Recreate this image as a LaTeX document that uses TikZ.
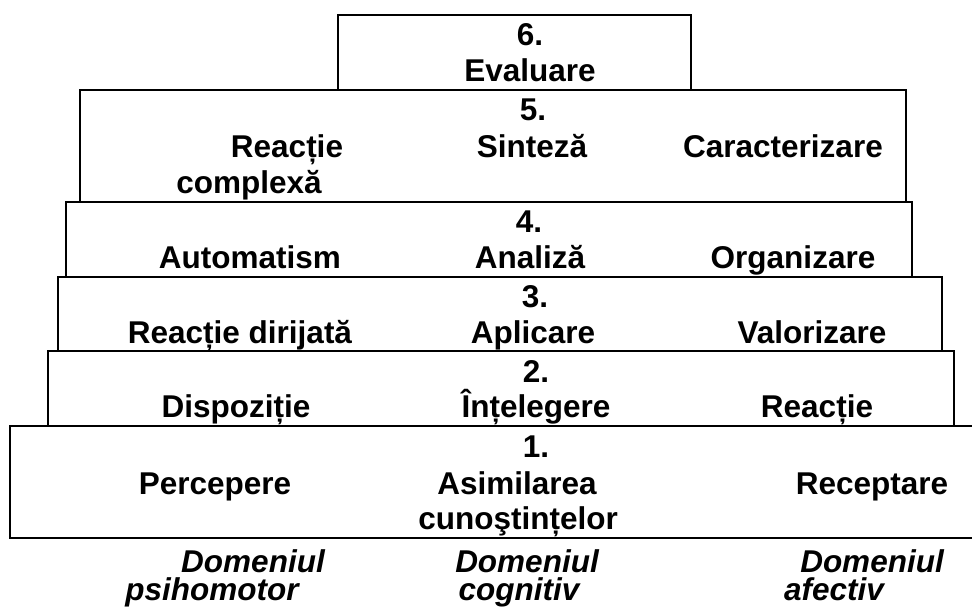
\documentclass[tikz,border=0pt]{standalone}
\usepackage{fontspec}
\setmainfont{Liberation Sans}
\begin{document}
\begin{tikzpicture}[x=1pt,y=-1pt,
  box/.style={line width=2pt},
  lbl/.style={anchor=base,inner sep=0pt,font=\fontsize{31.5}{36}\selectfont\bfseries},
  dom/.style={anchor=base,inner sep=0pt,font=\fontsize{31.5}{36}\selectfont\bfseries\itshape}]
\useasboundingbox (0,0) rectangle (972,608);
% boxes
\draw[box] (338,15) rectangle (691,90);
\draw[box] (80,90) rectangle (906,202);
\draw[box] (66,202) rectangle (912,277);
\draw[box] (58,277) rectangle (942,351);
\draw[box] (48,351) rectangle (954,426);
\draw[box] (973,426) -- (10,426) -- (10,538) -- (973,538);
% row 6
\node[lbl] (n6) at (530,45) {6.};
\node[lbl] (c6) at (530,81) {Evaluare};
% row 5
\node[lbl] (n5) at (533,120) {5.};
\node[lbl] (p5a) at (287,157) {Reacție};
\node[lbl] (p5b) at (249,193) {complexă};
\node[lbl] (c5) at (532,157) {Sinteză};
\node[lbl] (a5) at (783,157) {Caracterizare};
% row 4
\node[lbl] (n4) at (529,232) {4.};
\node[lbl] (p4) at (250,268) {Automatism};
\node[lbl] (c4) at (530,268) {Analiză};
\node[lbl] (a4) at (793,268) {Organizare};
% row 3
\node[lbl] (n3) at (535,307) {3.};
\node[lbl] (p3) at (240,343) {Reacție dirijată};
\node[lbl] (c3) at (533,343) {Aplicare};
\node[lbl] (a3) at (812,343) {Valorizare};
% row 2
\node[lbl] (n2) at (536,382) {2.};
\node[lbl] (p2) at (236,417) {Dispoziție};
\node[lbl] (c2) at (536,417) {Înțelegere};
\node[lbl] (a2) at (817,417) {Reacție};
% row 1
\node[lbl] (n1) at (536,457) {1.};
\node[lbl] (p1) at (215,494) {Percepere};
\node[lbl] (c1a) at (517,494) {Asimilarea};
\node[lbl] (c1b) at (518,529) {cunoştințelor};
\node[lbl] (a1) at (872,494) {Receptare};
% domains
\node[dom] (dpa) at (253,572) {Domeniul};
\node[dom] (dpb) at (212,600) {psihomotor};
\node[dom] (dca) at (527,572) {Domeniul};
\node[dom] (dcb) at (519,600) {cognitiv};
\node[dom] (daa) at (872,572) {Domeniul};
\node[dom] (dab) at (834,600) {afectiv};
\end{tikzpicture}
\end{document}
